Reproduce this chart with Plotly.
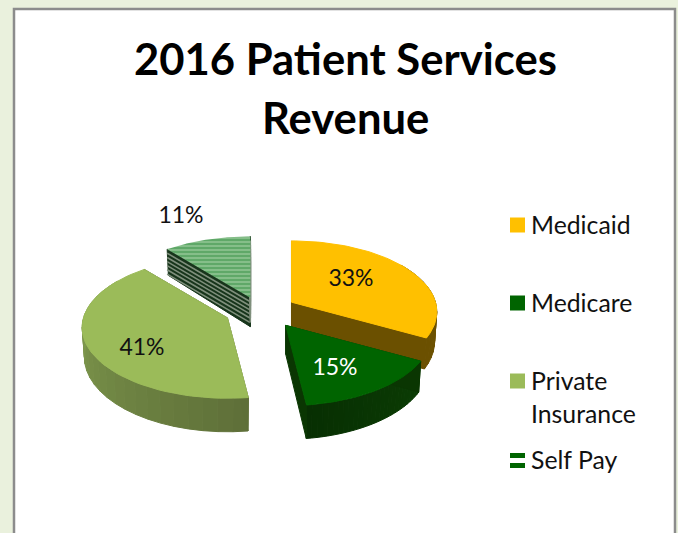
import math
import plotly.graph_objects as go

# ---- data ----
categories = ["Medicaid", "Medicare", "Private Insurance", "Self Pay"]
legend_labels = ["Medicaid", "Medicare", "Private<br>Insurance", "Self Pay"]
values = [33, 15, 41, 11]
title_lines = ["2016 Patient Services", "Revenue"]

# ---- styling / layout constants (pixels) ----
W, H = 678, 533
CX, CY = 260.5, 311.0
RX, RY = 144.0, 69.5
K = 0.135
EXPLODE = 0.25
DEPTH = 29.0
FONT = "Lato, Carlito, Calibri, sans-serif"
slice_nudge = [(0, 0), (5, 0), (0, 0), (2, 3)]
top_colors = ["#FFC000", "#006400", "#9BBB59", "#7DB583"]
side_stops = [
    ("#7A5C00", "#6B5000"),
    ("#0B3D04", "#072F02"),
    ("#5E6F38", "#8FAE58"),
    ("#2F4F30", "#2F4F30"),
]
cut_colors = ["#6B5000", "#0A3602", "#5E6F38", "#17351B"]
label_xy = [(351, 280), (335, 369), (142, 349), (181, 217)]
label_colors = ["#111111", "#FFFFFF", "#111111", "#111111"]
legend_y = [224, 302, 380, 459]
legend_sw = ["#FFC000", "#006400", "#9BBB59", None]


def proj(theta, r=1.0):
    u, v = math.sin(theta) * r, -math.cos(theta) * r
    s = 1 / (1 - K * v)
    return u * RX * s, v * RY * s, s


def lerp_hex(a, b, t):
    ca = [int(a[i:i + 2], 16) for i in (1, 3, 5)]
    cb = [int(b[i:i + 2], 16) for i in (1, 3, 5)]
    return "#%02X%02X%02X" % tuple(round(x + (y - x) * t) for x, y in zip(ca, cb))


fig = go.Figure()


def poly(xs, ys, color, lw=1.0, **kw):
    fig.add_trace(go.Scatter(x=xs, y=ys, mode="lines", fill="toself", fillcolor=color,
                             line=dict(width=lw, color=color), hoverinfo="skip",
                             showlegend=False, **kw))


total = sum(values)
slices = []
start = 0.0
for i, val in enumerate(values):
    end = start + val / total * 2 * math.pi
    mid = (start + end) / 2
    ax = CX + EXPLODE * RX * math.sin(mid) + slice_nudge[i][0]
    ay = CY - EXPLODE * RY * math.cos(mid) + slice_nudge[i][1]
    slices.append(dict(i=i, a=start, b=end, ax=ax, ay=ay))
    start = end


def pt(sl, theta, drop=False):
    x, y, s = proj(theta)
    if drop:
        return sl["ax"] + x * 0.985, sl["ay"] + y + DEPTH * s
    return sl["ax"] + x, sl["ay"] + y


def draw(sl):
    i, a, b = sl["i"], sl["a"], sl["b"]
    n = 28
    # outer wall, shaded along its length
    for k in range(n):
        t0 = a + (b - a) * k / n
        t1 = a + (b - a) * (k + 1) / n
        if -math.cos((t0 + t1) / 2) < -0.55:
            continue
        p = [pt(sl, t0), pt(sl, t1), pt(sl, t1, True), pt(sl, t0, True)]
        col = lerp_hex(side_stops[i][0], side_stops[i][1], (k + .5) / n)
        poly([q[0] for q in p] + [p[0][0]], [q[1] for q in p] + [p[0][1]], col)
    # cut walls
    for theta in (a, b):
        e, ed = pt(sl, theta), pt(sl, theta, True)
        ap = (sl["ax"], sl["ay"])
        apd = (sl["ax"], sl["ay"] + DEPTH)
        xs = [ap[0], e[0], ed[0], apd[0], ap[0]]
        ys = [ap[1], e[1], ed[1], apd[1], ap[1]]
        poly(xs, ys, cut_colors[i])
        if categories[i] == "Self Pay":
            for f in (0.14, 0.29, 0.43, 0.57, 0.71, 0.86):
                fig.add_trace(go.Scatter(
                    x=[ap[0], e[0]],
                    y=[ap[1] + DEPTH * f, e[1] + DEPTH * f],
                    mode="lines", line=dict(width=1.6, color="#7F8F7C"),
                    hoverinfo="skip", showlegend=False))
    # top face
    m = 60
    pts = [(sl["ax"], sl["ay"])] + [pt(sl, a + (b - a) * k / m) for k in range(m + 1)] + [(sl["ax"], sl["ay"])]
    kw = {}
    lw = 1.0
    if categories[i] == "Self Pay":
        kw["fillpattern"] = dict(shape="-", fgcolor="#BFE0BC", bgcolor="#5FA868", size=4, solidity=0.4)
        lw = 0
    poly([q[0] for q in pts], [q[1] for q in pts], top_colors[i], lw=lw, **kw)


order = [3, 2, 0, 1]
for idx in order:
    draw(slices[idx])

# data labels
fig.add_trace(go.Scatter(
    x=[p[0] for p in label_xy], y=[p[1] for p in label_xy], mode="text",
    text=[f"{v}%" for v in values],
    textfont=dict(family=FONT, size=23, color=label_colors),
    textposition="middle center", hoverinfo="skip", showlegend=False))

# legend swatches + text
fig.add_trace(go.Scatter(
    x=[517.5] * 3, y=[225, 303, 381], mode="markers",
    marker=dict(symbol="square", size=15, color=legend_sw[:3], line=dict(width=0)),
    hoverinfo="skip", showlegend=False))
anns = []
for lab, y in zip(legend_labels, legend_y):
    parts = lab.split("<br>")
    for j, part in enumerate(parts):
        anns.append(dict(x=529, y=y + j * 33, text=part, xref="x", yref="y", xanchor="left",
                         yanchor="middle", showarrow=False,
                         font=dict(family=FONT, size=24.8, color="#111111")))
for j, line in enumerate(title_lines):
    anns.append(dict(x=345, y=58 + j * 59, text=f"<b>{line}</b>", xref="x", yref="y", xanchor="center",
                     yanchor="middle", showarrow=False,
                     font=dict(family=FONT, size=43.6, color="#000000")))

shapes = [
    dict(type="rect", x0=14, y0=9, x1=675, y1=560, xref="x", yref="y", layer="below",
         fillcolor="#FFFFFF", line=dict(color="#8C8C8C", width=2.5)),
    dict(type="rect", x0=510, y0=453, x1=525, y1=458, xref="x", yref="y", fillcolor="#006400", line=dict(width=0)),
    dict(type="rect", x0=510, y0=463, x1=525, y1=468, xref="x", yref="y", fillcolor="#006400", line=dict(width=0)),
]

fig.update_layout(
    width=W, height=H, margin=dict(l=0, r=0, t=0, b=0),
    paper_bgcolor="#EAF1DD", plot_bgcolor="rgba(0,0,0,0)",
    xaxis=dict(range=[0, W], visible=False, fixedrange=True),
    yaxis=dict(range=[H, 0], visible=False, fixedrange=True),
    annotations=anns, shapes=shapes, showlegend=False,
)
fig.write_html("out.html", config={"displayModeBar": False},
               post_script="document.body.style.margin='0';document.documentElement.style.overflow='hidden';")
